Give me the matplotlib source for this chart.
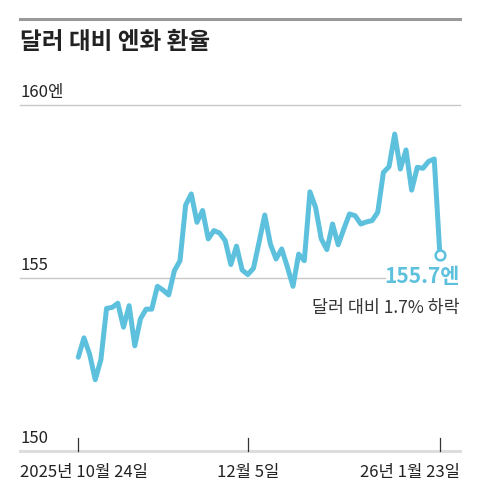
import matplotlib
matplotlib.use("Agg")
import matplotlib.pyplot as plt
import numpy as np

plt.rcParams['font.family'] = ['Noto Sans CJK KR', 'DejaVu Sans']

# --- data (trading days, 2025-10-24 .. 2026-01-23) ---
rates = [
    152.71, 153.27, 152.80, 152.06, 152.64, 154.12, 154.15, 154.27, 153.58, 154.20,
    153.04, 153.82, 154.10, 154.10, 154.76, 154.65, 154.51, 155.21, 155.50, 157.11,
    157.43, 156.61, 156.95, 156.13, 156.37, 156.30, 156.08, 155.39, 155.92, 155.23,
    155.10, 155.28, 156.04, 156.82, 155.98, 155.55, 155.84, 155.32, 154.76, 155.69,
    155.50, 157.49, 157.04, 156.13, 155.82, 156.56, 155.96, 156.42, 156.85, 156.80,
    156.56, 156.62, 156.66, 156.90, 158.05, 158.22, 159.16, 158.15, 158.70, 157.54,
    158.20, 158.17, 158.37, 158.44, 155.67,
]
tick_idx = [0, 30, 64]
tick_labels = ["2025년 10월 24일", "12월 5일", "26년 1월 23일"]
y_labels = {160: "160엔", 155: "155", 150: "150"}
title = "달러 대비 엔화 환율"
last_label = "155.7엔"
change_label = "달러 대비 1.7% 하락"

BLUE = '#5dc1de'
W, H = 480, 502

fig = plt.figure(figsize=(W / 100, H / 100), dpi=100)
# axes spans x 20..460 px, y 452 (150) .. 106 (160) px
ax = fig.add_axes([20 / W, (H - 452) / H, 440 / W, (452 - 106) / H])
x = np.arange(len(rates))
x0 = (20 - 78.3) / 5.65
x1 = (460 - 78.3) / 5.65
ax.set_xlim(x0, x1)
ax.set_ylim(150, 160)
ax.axis('off')

# grid lines
ax.plot([x0, x1], [160, 160], color='#c8c8c8', lw=1.0, clip_on=False)
ax.plot([x0, (385 - 78.3) / 5.65], [155, 155], color='#c8c8c8', lw=1.0, clip_on=False)
ax.plot([x0, x1], [150, 150], color='#dddddd', lw=2.2, clip_on=False)

# ticks
for t in tick_idx:
    ax.plot([t, t], [150, 150.38], color='#333333', lw=0.9, clip_on=False)

# series
ax.plot(x, rates, color=BLUE, lw=3.6, solid_joinstyle='round', solid_capstyle='round',
        clip_on=False, zorder=3)
ax.plot(x[-1], rates[-1], 'o', ms=7, mfc='white', mec=BLUE, mew=1.8, clip_on=False, zorder=4)

# y labels
for v, s in y_labels.items():
    ax.text(x0, v + 0.15, s, ha='left', va='bottom', fontsize=12, color='#222222')

# x labels
has = ['left', 'center', 'right']
xs = [x0, tick_idx[1], x1]
for xx, s, h in zip(xs, tick_labels, has):
    ax.text(xx, 149.4, s, ha=h, va='center', fontsize=12, color='#222222')

# end annotation
ax.text(x1, rates[-1] - 0.6, last_label, ha='right', va='center', fontsize=15,
        color=BLUE, fontweight='bold')
ax.text(x1, rates[-1] - 1.5, change_label, ha='right', va='center', fontsize=12.5,
        color='#333333')

# title and top rule
fig.add_artist(plt.Line2D([20 / W, 460 / W], [1 - 20 / H, 1 - 20 / H],
                          color='#999999', lw=2.2))
fig.text(20 / W, 1 - 42 / H, title, ha='left', va='center', fontsize=17,
         fontweight='bold', color='#222222')

fig.savefig('out.png', dpi=100)
